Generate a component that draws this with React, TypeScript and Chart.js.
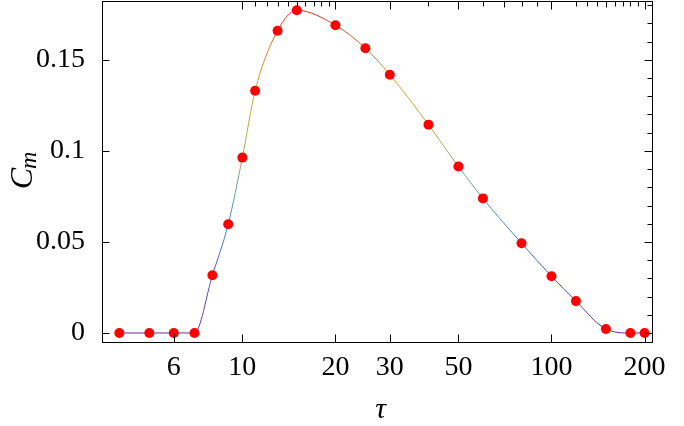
import React, { useEffect, useRef } from "react";
import { Chart, registerables } from "chart.js";

Chart.register(...registerables);

// ---- data ----
const tauValues = [4, 5, 6, 7, 8, 9, 10, 11, 13, 15, 20, 25, 30, 40, 50, 60, 80, 100, 120, 150, 180, 200];
const cmValues = [0, 0, 0, 0, 0.0317, 0.0597, 0.0963, 0.133, 0.166, 0.1772, 0.169, 0.1564, 0.1418, 0.1144, 0.0914, 0.0739, 0.0493, 0.0312, 0.0175, 0.0022, 0, 0];

const xTickValues = [6, 10, 20, 30, 50, 100, 200];
const yTickValues = [0, 0.05, 0.1, 0.15];

const topMajorTicks = [10, 20, 30, 50, 100, 200];
const topMediumTicks = [15, 70, 150];
const topMinorTicks = [11, 12, 13, 14, 16, 17, 18, 19, 40, 60, 80, 90, 120, 130, 140, 160, 170, 180, 190];
const rightMinorTicks = [0.01, 0.02, 0.03, 0.04, 0.06, 0.07, 0.08, 0.09, 0.11, 0.12, 0.13, 0.14, 0.16, 0.17, 0.18];

const rainbowStops = [0, 0.15, 0.3, 0.45, 0.62, 0.75, 0.87, 1];
const rainbowColors = ["#6a2c9c", "#5a4cc4", "#3f80d4", "#66a88c", "#aeb040", "#d4a828", "#e07a28", "#e02a20"];

const framePlugin = {
  id: "mmaFrame",
  afterDraw(chart: any) {
    const { ctx, chartArea: a, scales } = chart;
    const x = scales.x;
    const y = scales.y;
    ctx.save();
    ctx.strokeStyle = "#000";
    ctx.lineWidth = 1;
    const L = Math.round(a.left) + 0.5;
    const R = Math.round(a.right) - 0.5;
    const T = Math.round(a.top) + 0.5;
    const B = Math.round(a.bottom) - 0.5;
    ctx.strokeRect(L, T, R - L, B - T);
    ctx.beginPath();
    const vTick = (v: number, len: number, top: boolean) => {
      const px = Math.round(x.getPixelForValue(v)) + 0.5;
      if (top) {
        ctx.moveTo(px, T);
        ctx.lineTo(px, T + len);
      } else {
        ctx.moveTo(px, B);
        ctx.lineTo(px, B - len);
      }
    };
    const hTick = (v: number, len: number, right: boolean) => {
      const py = Math.round(y.getPixelForValue(v)) + 0.5;
      if (right) {
        ctx.moveTo(R, py);
        ctx.lineTo(R - len, py);
      } else {
        ctx.moveTo(L, py);
        ctx.lineTo(L + len, py);
      }
    };
    xTickValues.forEach((v) => vTick(v, 8, false));
    topMajorTicks.forEach((v) => vTick(v, 8, true));
    topMediumTicks.forEach((v) => vTick(v, 6, true));
    topMinorTicks.forEach((v) => vTick(v, 5, true));
    yTickValues.forEach((v) => hTick(v, 7, false));
    yTickValues.forEach((v) => hTick(v, 8, true));
    rightMinorTicks.forEach((v) => hTick(v, 5, true));
    ctx.stroke();

    // axis titles
    ctx.fillStyle = "#000";
    ctx.textBaseline = "alphabetic";
    ctx.textAlign = "center";
    ctx.font = 'italic 30px "Liberation Serif"';
    ctx.fillText("τ", (a.left + a.right) / 2 + 3, 418);

    // C_m rotated
    ctx.save();
    ctx.translate(32, 170);
    ctx.rotate(-Math.PI / 2);
    ctx.textAlign = "left";
    const bigFont = 'italic 32px "Liberation Serif"';
    const smallFont = 'italic 24px "Liberation Serif"';
    ctx.font = bigFont;
    const wC = ctx.measureText("C").width;
    ctx.font = smallFont;
    const wM = ctx.measureText("m").width;
    const start = -(wC + wM) / 2;
    ctx.font = bigFont;
    ctx.fillText("C", start, 0);
    ctx.font = smallFont;
    ctx.fillText("m", start + wC - 1, 4);
    ctx.restore();

    ctx.restore();
  },
};

export default function App() {
  const ref = useRef<HTMLCanvasElement | null>(null);
  useEffect(() => {
    if (!ref.current) return;
    const chart = new Chart(ref.current, {
      type: "line",
      data: {
        datasets: [
          {
            data: tauValues.map((t, i) => ({ x: t, y: cmValues[i] })),
            borderWidth: 1,
            borderColor: (c: any) => {
              const ch = c.chart;
              const area = ch.chartArea;
              if (!area || !ch.scales.y) return "#e07a28";
              const y0 = ch.scales.y.getPixelForValue(0);
              const y1 = ch.scales.y.getPixelForValue(0.178);
              const g = ch.ctx.createLinearGradient(0, y0, 0, y1);
              rainbowStops.forEach((s, i) => g.addColorStop(s, rainbowColors[i]));
              return g;
            },
            cubicInterpolationMode: "monotone",
            pointRadius: 5,
            pointBackgroundColor: "#ff0000",
            pointBorderWidth: 0,
            pointBorderColor: "#ff0000",
            fill: false,
            clip: false,
          } as any,
        ],
      },
      options: {
        responsive: false,
        animation: false,
        events: [],
        layout: { autoPadding: false, padding: { top: 1, right: 31, left: 0, bottom: 0 } },
        plugins: { legend: { display: false }, tooltip: { enabled: false } },
        scales: {
          x: {
            type: "logarithmic",
            min: 3.515,
            max: 213,
            grid: { display: false },
            border: { display: false },
            afterBuildTicks: (s: any) => {
              s.ticks = xTickValues.map((v) => ({ value: v }));
            },
            afterFit: (s: any) => {
              s.height = 83;
              s.paddingLeft = 0;
              s.paddingRight = 0;
              s.paddingTop = 0;
              s.paddingBottom = 0;
            },
            ticks: {
              autoSkip: false,
              maxRotation: 0,
              padding: 0,
              color: "#000",
              font: { family: '"Liberation Serif"', size: 28 },
              callback: (v: any) => String(v),
            },
          },
          y: {
            type: "linear",
            min: -0.0055,
            max: 0.1823,
            grid: { display: false },
            border: { display: false },
            afterBuildTicks: (s: any) => {
              s.ticks = yTickValues.map((v) => ({ value: v }));
            },
            afterFit: (s: any) => {
              s.width = 102;
              s.paddingLeft = 0;
              s.paddingRight = 0;
              s.paddingTop = 0;
              s.paddingBottom = 0;
            },
            ticks: {
              padding: 9,
              color: "#000",
              font: { family: '"Liberation Serif"', size: 28 },
              callback: (v: any) => String(v),
            },
          },
        },
      },
      plugins: [framePlugin],
    } as any);
    return () => chart.destroy();
  }, []);
  return (
    <div style={{ position: "fixed", left: 0, top: 0, width: 684, height: 426, background: "#fff" }}>
      <canvas ref={ref} width={684} height={426} style={{ display: "block", width: 684, height: 426 }} />
    </div>
  );
}
